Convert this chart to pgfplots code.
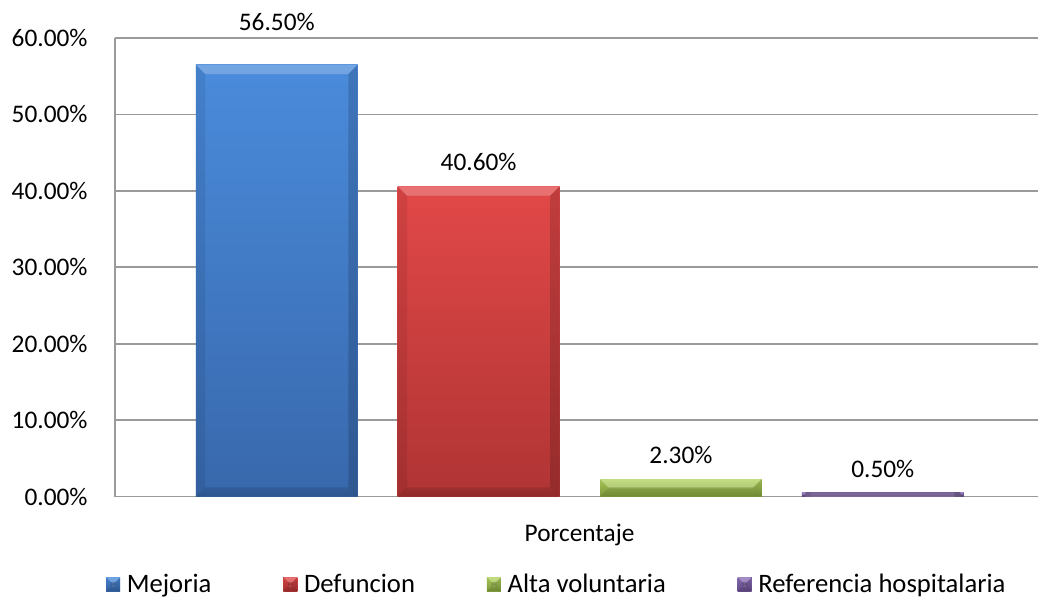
\documentclass[border=0pt]{standalone}
\usepackage{pgfplots}
\pgfplotsset{compat=1.18}
\usepackage{fontspec}
\setmainfont{Carlito}
\newlength\bev
\setlength\bev{7pt}
% bevelled bar look: light top edge, darker sides and bottom
\tikzset{
  bevfill/.style={path picture={}, draw=none, #1},
  bevel/.style={
    path picture={
      \fill[bevfill={white,opacity=0.35}] (path picture bounding box.north west) -- (path picture bounding box.north east)
        -- ([xshift=-\bev,yshift=-\bev]path picture bounding box.north east) -- ([xshift=\bev,yshift=-\bev]path picture bounding box.north west) -- cycle;
      \fill[bevfill={black,opacity=0.08}] (path picture bounding box.north west) -- ([xshift=\bev,yshift=-\bev]path picture bounding box.north west)
        -- ([xshift=\bev,yshift=\bev]path picture bounding box.south west) -- (path picture bounding box.south west) -- cycle;
      \fill[bevfill={black,opacity=0.18}] (path picture bounding box.north east) -- ([xshift=-\bev,yshift=-\bev]path picture bounding box.north east)
        -- ([xshift=-\bev,yshift=\bev]path picture bounding box.south east) -- (path picture bounding box.south east) -- cycle;
      \fill[bevfill={black,opacity=0.22}] (path picture bounding box.south west) -- ([xshift=\bev,yshift=\bev]path picture bounding box.south west)
        -- ([xshift=-\bev,yshift=\bev]path picture bounding box.south east) -- (path picture bounding box.south east) -- cycle;
    }
  }
}
\definecolor{blueT}{HTML}{4A8BDB}
\definecolor{blueB}{HTML}{3868AC}
\definecolor{redT}{HTML}{E24848}
\definecolor{redB}{HTML}{B03434}
\definecolor{greenT}{HTML}{B2D35E}
\definecolor{greenB}{HTML}{87A640}
\definecolor{purpT}{HTML}{8C6FB8}
\definecolor{purpB}{HTML}{6A5090}
\definecolor{gridc}{HTML}{9A9A9A}
\newcommand\legbox[2]{\fill[top color=#1, bottom color=#2] (0pt,-5pt) rectangle (10.5pt,5.5pt);}
\begin{document}
\begin{tikzpicture}
\begin{axis}[
  scale only axis,
  width=693pt, height=344.25pt,
  xmin=115, xmax=1039,
  ymin=0, ymax=60,
  axis lines*=left,
  axis line style={gridc, line width=1.2pt},
  ymajorgrids,
  grid style={gridc, line width=1.2pt},
  major tick length=0pt,
  ytick={0,10,20,30,40,50,60},
  yticklabels={0.00\%,10.00\%,20.00\%,30.00\%,40.00\%,50.00\%,60.00\%},
  xtick={580},
  xticklabels={Porcentaje},
  ticklabel style={font=\fontsize{19}{23}\selectfont, black},
  yticklabel style={xshift=-17pt},
  xticklabel style={yshift=-17pt},
  ybar, bar shift=0pt, bar width=162,
  nodes near coords style={font=\fontsize{19}{23}\selectfont, black, yshift=8pt},
  legend style={draw=none, font=\fontsize{20}{24}\selectfont, at={(rel axis cs:0.479,-0.192)}, anchor=center,
    legend columns=4, /tikz/every odd column/.append style={column sep=3pt},
    /tikz/every even column/.append style={column sep=52pt}},
  clip=false,
]
% bars
\addplot[draw=none, top color=blueT, bottom color=blueB, bevel,
  legend image code/.code={\legbox{blueT}{blueB}}] coordinates {(277,56.5)};
\addlegendentry{Mejoria}
\addplot[draw=none, top color=redT, bottom color=redB, bevel,
  legend image code/.code={\legbox{redT}{redB}}] coordinates {(479,40.6)};
\addlegendentry{Defuncion}
\addplot[draw=none, top color=greenT, bottom color=greenB, bevel,
  legend image code/.code={\legbox{greenT}{greenB}}] coordinates {(681.5,2.3)};
\addlegendentry{Alta voluntaria}
\addplot[draw=none, top color=purpT, bottom color=purpB, bevel,
  legend image code/.code={\legbox{purpT}{purpB}}] coordinates {(883.5,0.5)};
\addlegendentry{Referencia hospitalaria}
% value labels
\addplot[forget plot, draw=none, nodes near coords={56.50\%}, nodes near coords style={yshift=14pt}] coordinates {(277,56.5)};
\addplot[forget plot, draw=none, nodes near coords={40.60\%}] coordinates {(479,40.6)};
\addplot[forget plot, draw=none, nodes near coords={2.30\%}] coordinates {(681.5,2.3)};
\addplot[forget plot, draw=none, nodes near coords={0.50\%}] coordinates {(883.5,0.5)};
\end{axis}
\useasboundingbox (-86.25pt,-78pt) rectangle (693pt,372.75pt);
\end{tikzpicture}
\end{document}
